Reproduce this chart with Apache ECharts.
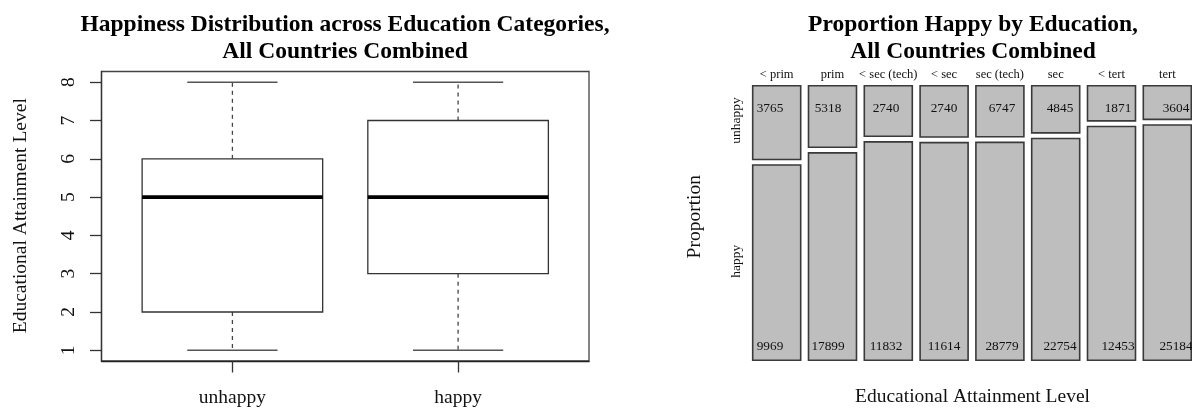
<!DOCTYPE html>
<html>
<head>
<meta charset="utf-8">
<script src="https://cdn.jsdelivr.net/npm/echarts@6/dist/echarts.min.js"></script>
<style>
html,body{margin:0;padding:0;background:#fff;}
#main{width:1192px;height:408px;}
</style>
</head>
<body>
<div id="main"></div>
<script>
// ---- Left panel: boxplot data ----
const groups = ['unhappy', 'happy'];
const boxMin = [1, 1];
const boxQ1 = [2, 3];
const boxMedian = [5, 5];
const boxQ3 = [6, 7];
const boxMax = [8, 8];
const yTicks = [1, 2, 3, 4, 5, 6, 7, 8];

// ---- Right panel: mosaic data ----
const categories = ['< prim', 'prim', '< sec (tech)', '< sec', 'sec (tech)', 'sec', '< tert', 'tert'];
const unhappyCounts = [3765, 5318, 2740, 2740, 6747, 4845, 1871, 3604];
const happyCounts = [9969, 17899, 11832, 11614, 28779, 22754, 12453, 25184];
const rowLabels = ['unhappy', 'happy'];

const FONT = '"Liberation Serif", "Times New Roman", serif';
const chart = echarts.init(document.getElementById('main'));

const boxData = groups.map((g, i) => [i + 1, boxMin[i], boxQ1[i], boxMedian[i], boxQ3[i], boxMax[i]]);
const mosaicData = categories.map((c, i) => [i, unhappyCounts[i], happyCounts[i]]);

const LINE = '#333';

function renderBox(params, api) {
  const x = api.value(0);
  const mn = api.value(1), q1 = api.value(2), md = api.value(3), q3 = api.value(4), mx = api.value(5);
  const hw = 0.4, cw = 0.2;
  const p = (a, b) => api.coord([a, b]);
  const tl = p(x - hw, q3), br = p(x + hw, q1);
  const seg = (a, b, style) => ({
    type: 'line',
    shape: { x1: a[0], y1: a[1], x2: b[0], y2: b[1] },
    style: Object.assign({ stroke: LINE, lineWidth: 1.3 }, style || {})
  });
  return {
    type: 'group',
    children: [
      seg(p(x, q3), p(x, mx), { lineDash: [4, 4], stroke: '#444' }),
      seg(p(x, q1), p(x, mn), { lineDash: [4, 4], stroke: '#444' }),
      seg(p(x - cw, mx), p(x + cw, mx), { stroke: '#555', lineWidth: 1.6 }),
      seg(p(x - cw, mn), p(x + cw, mn), { stroke: '#555', lineWidth: 1.6 }),
      {
        type: 'rect',
        shape: { x: tl[0], y: tl[1], width: br[0] - tl[0], height: br[1] - tl[1] },
        style: { fill: '#fff', stroke: LINE, lineWidth: 1.3 }
      },
      seg(p(x - hw, md), p(x + hw, md), { stroke: '#000', lineWidth: 3.6 })
    ]
  };
}

const STRIDE_PX = 55.8;
const GRID2_LEFT = 752.7;
const GRID2_WIDTH = 1192 - GRID2_LEFT;
const TILE_W = 48 / STRIDE_PX;
const GAP = 0.0204;

function renderMosaic(params, api) {
  const i = api.value(0);
  const u = api.value(1), h = api.value(2);
  const pu = u / (u + h);
  const uBottom = 1 - pu * (1 - GAP);
  const hTop = (1 - pu) * (1 - GAP);
  const a1 = api.coord([i, 1]), b1 = api.coord([i + TILE_W, uBottom]);
  const a2 = api.coord([i, hTop]), b2 = api.coord([i + TILE_W, 0]);
  const tileStyle = { fill: '#bebebe', stroke: '#3a3a3a', lineWidth: 1.6 };
  const cx = (a1[0] + b1[0]) / 2;
  const lx = cx - 6.7 + 2.2 * i;
  const children = [
    { type: 'rect', shape: { x: a1[0], y: a1[1], width: b1[0] - a1[0], height: b1[1] - a1[1] }, style: tileStyle },
    { type: 'rect', shape: { x: a2[0], y: a2[1], width: b2[0] - a2[0], height: b2[1] - a2[1] }, style: tileStyle },
    { type: 'text', x: lx, y: a1[1] + 22.8,
      style: { text: String(u), fill: '#111', font: '13.3px ' + FONT, align: 'center', verticalAlign: 'middle' } },
    { type: 'text', x: lx, y: b2[1] - 14.2,
      style: { text: String(h), fill: '#111', font: '13.3px ' + FONT, align: 'center', verticalAlign: 'middle' } },
    { type: 'text', x: cx, y: a1[1] - 11.4,
      style: { text: categories[params.dataIndex], fill: '#111', font: '12.5px ' + FONT, align: 'center', verticalAlign: 'middle' } }
  ];
  if (params.dataIndex === 0) {
    children.push(
      { type: 'text', x: a1[0] - 16, y: (a1[1] + b1[1]) / 2 - 2, rotation: Math.PI / 2,
        style: { text: rowLabels[0], fill: '#111', font: '13.5px ' + FONT, align: 'center', verticalAlign: 'middle' } },
      { type: 'text', x: a2[0] - 16, y: (a2[1] + b2[1]) / 2 - 1.5, rotation: Math.PI / 2,
        style: { text: rowLabels[1], fill: '#111', font: '13.5px ' + FONT, align: 'center', verticalAlign: 'middle' } }
    );
  }
  return { type: 'group', children };
}

const titleStyle = { fontFamily: FONT, fontWeight: 'bold', fontSize: 23.5, lineHeight: 26.7, color: '#000' };

chart.setOption({
  animation: false,
  backgroundColor: '#fff',
  title: [
    { text: 'Happiness Distribution across Education Categories,\nAll Countries Combined',
      left: 345, top: 11.7, textAlign: 'center', padding: 0, textStyle: titleStyle },
    { text: 'Proportion Happy by Education,\nAll Countries Combined',
      left: 973, top: 11.7, textAlign: 'center', padding: 0, textStyle: titleStyle }
  ],
  grid: [
    { left: 101.5, top: 71.5, width: 487.5, height: 289.5, show: true, borderColor: '#444', borderWidth: 1.3, backgroundColor: 'transparent' },
    { left: GRID2_LEFT, top: 85.7, width: GRID2_WIDTH, height: 274.6, show: false }
  ],
  xAxis: [
    {
      gridIndex: 0, type: 'value', min: 0.42, max: 2.58,
      axisLine: { show: true, lineStyle: { color: '#222', width: 1.3 } },
      axisTick: { show: true, customValues: groups.map((g, i) => i + 1), length: 11.5, lineStyle: { color: '#333', width: 1.3 } },
      axisLabel: { show: true, customValues: groups.map((g, i) => i + 1), formatter: v => groups[Math.round(v) - 1],
        fontFamily: FONT, fontSize: 19.5, color: '#111', margin: 27 },
      splitLine: { show: false }
    },
    { gridIndex: 1, type: 'value', min: 0, max: GRID2_WIDTH / STRIDE_PX, show: false }
  ],
  yAxis: [
    {
      gridIndex: 0, type: 'value', min: 0.72, max: 8.28,
      axisLine: { show: true, lineStyle: { color: '#333', width: 1.3 } },
      axisTick: { show: true, customValues: yTicks, length: 11.5, lineStyle: { color: '#333', width: 1.3 } },
      axisLabel: { show: true, customValues: yTicks, rotate: 90, fontFamily: FONT, fontSize: 19.5, color: '#111', margin: 23 },
      splitLine: { show: false }
    },
    { gridIndex: 1, type: 'value', min: 0, max: 1, show: false }
  ],
  graphic: [
    { type: 'text', x: 20.7, y: 215.7, rotation: Math.PI / 2,
      style: { text: 'Educational Attainment Level', fill: '#111', font: '19.5px ' + FONT, align: 'center', verticalAlign: 'middle' } },
    { type: 'text', x: 695, y: 216.7, rotation: Math.PI / 2,
      style: { text: 'Proportion', fill: '#111', font: '19.5px ' + FONT, align: 'center', verticalAlign: 'middle' } },
    { type: 'text', x: 972.5, y: 397,
      style: { text: 'Educational Attainment Level', fill: '#111', font: '19.5px ' + FONT, align: 'center', verticalAlign: 'middle' } }
  ],
  series: [
    { type: 'custom', xAxisIndex: 0, yAxisIndex: 0, renderItem: renderBox, data: boxData, clip: false, silent: true },
    { type: 'custom', xAxisIndex: 1, yAxisIndex: 1, renderItem: renderMosaic, data: mosaicData, clip: false, silent: true }
  ]
});
</script>
</body>
</html>
